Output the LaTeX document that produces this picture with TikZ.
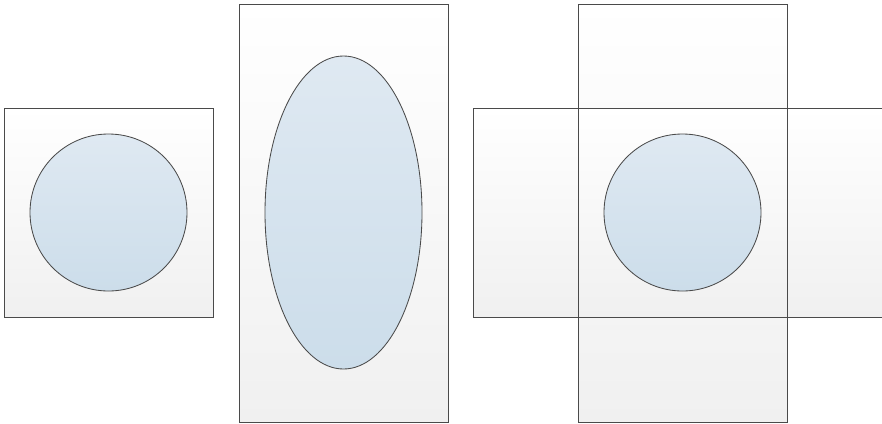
\documentclass[tikz,border=0pt]{standalone}
\usepackage{tikz}
\usetikzlibrary{shapes.geometric}
\definecolor{edgegray}{HTML}{4A4A4A}
\definecolor{paneltop}{HTML}{FFFFFF}
\definecolor{panelbot}{HTML}{F0F0F0}
\definecolor{blobtop}{HTML}{DFE9F2}
\definecolor{blobbot}{HTML}{CCDDEA}
\tikzset{
  panelfill/.style={top color=paneltop, bottom color=panelbot, draw=none},
  panel/.style={draw=edgegray, line width=0.6pt, top color=paneltop, bottom color=panelbot},
  paneledge/.style={draw=edgegray, line width=0.6pt},
  blob/.style={draw=edgegray, line width=0.6pt, top color=blobtop, bottom color=blobbot}
}

\begin{document}
\begin{tikzpicture}[x=0.025cm,y=-0.025cm]
  \useasboundingbox (0,0) rectangle (882,423);

  % square with circle
  \draw[panel] (4,108) rectangle (213,317);
  \draw[blob] (108.5,212.5) circle (78.5);

  % tall box with ellipse
  \draw[panel] (239,4) rectangle (448,422);
  \draw[blob] (343.5,212.5) ellipse [x radius=78.5, y radius=156.5];

  % cross of two boxes with circle
  \path[panelfill] (578,4) rectangle (787,422);
  \path[panelfill] (473,108) rectangle (892,317);
  \draw[paneledge] (578,4) rectangle (787,422);
  \draw[paneledge] (473,108) rectangle (892,317);
  \draw[blob] (682.5,212.5) circle (78.5);
\end{tikzpicture}
\end{document}
